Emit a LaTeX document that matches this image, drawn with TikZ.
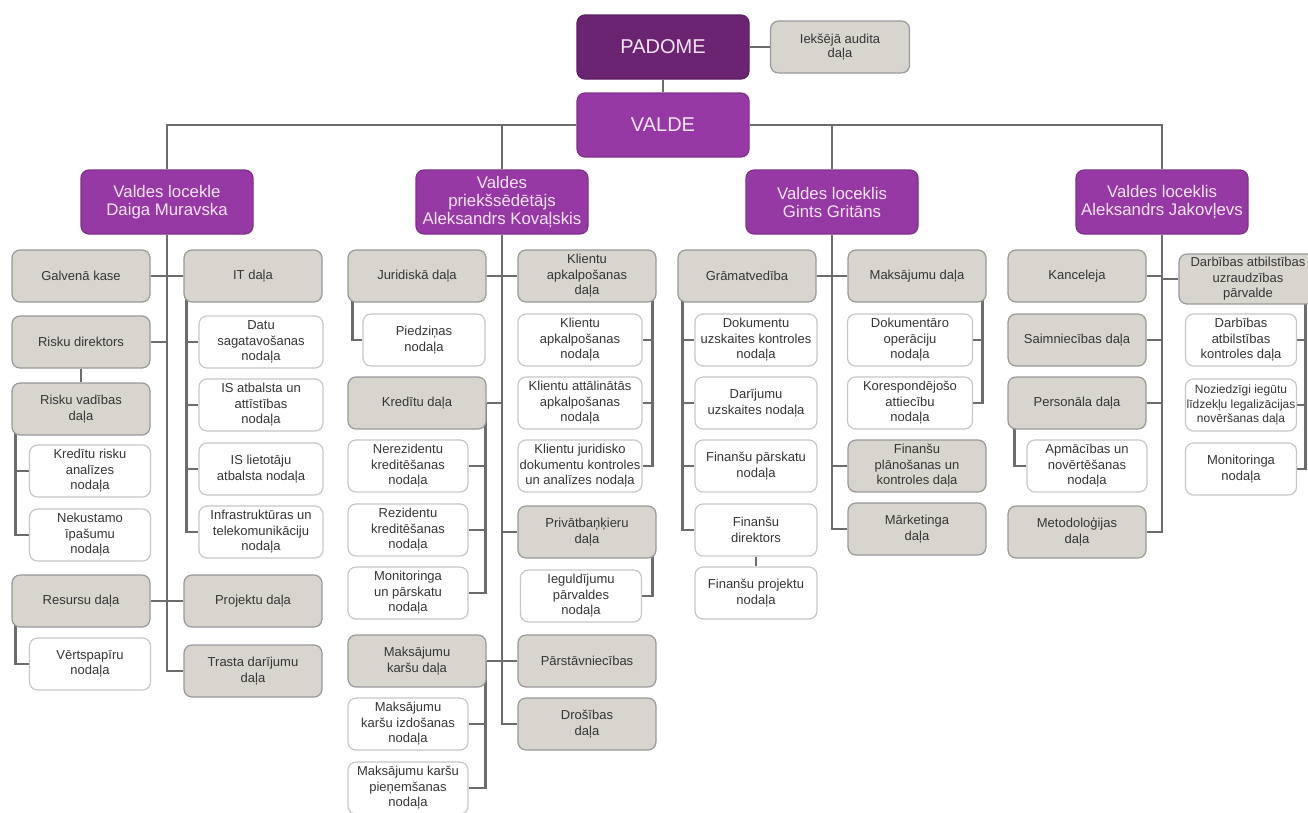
\documentclass[tikz,border=0pt]{standalone}
\usepackage{fontspec}
\setmainfont{Liberation Sans}
\usetikzlibrary{positioning}

\definecolor{padomec}{HTML}{6A2471}
\definecolor{valdec}{HTML}{9739A4}
\definecolor{deptc}{HTML}{D8D4CE}
\definecolor{linec}{HTML}{6C6C6C}
\definecolor{txtc}{HTML}{363636}
\definecolor{lightc}{HTML}{F6E4F8}

\pgfdeclarelayer{bg}
\pgfsetlayers{bg,main}

\begin{document}
\begin{tikzpicture}[x=1pt, y=-1pt,
  box/.style={rounded corners=8pt, align=center, inner sep=1pt, line width=1.2pt},
  toplvl/.style={box, fill=padomec, draw=padomec!85!black, text=lightc,
                 minimum width=172pt, minimum height=64pt, font=\fontsize{20}{24}\selectfont},
  board/.style={box, fill=valdec, draw=valdec!85!black, text=lightc,
                minimum width=172pt, minimum height=64pt, font=\fontsize{16.8}{18}\selectfont},
  dept/.style={box, fill=deptc, draw=black!40, text=txtc,
               minimum width=138pt, minimum height=52pt, font=\fontsize{13}{15.5}\selectfont},
  unit/.style={box, fill=white, draw=black!22, text=txtc,
               minimum width=122pt, minimum height=52pt, font=\fontsize{13}{15.5}\selectfont},
  conn/.style={draw=linec, line width=2.8pt}]

\useasboundingbox (0,0) rectangle (1308,812);

% top
\node[toplvl] (padome) at (663,47) {PADOME};
\node[dept, minimum width=139pt, font=\fontsize{13}{14}\selectfont] (audit) at (840,47) {Iekšējā audita\\daļa};
\node[board, font=\fontsize{20}{24}\selectfont] (valde) at (663,125) {VALDE};

\node[board] (m1) at (167,202) {Valdes locekle\\Daiga Muravska};
\node[board] (m2) at (502,202) {Valdes\\priekšsēdētājs\\Aleksandrs Kovaļskis};
\node[board] (m3) at (832,202) {Valdes loceklis\\Gints Gritāns};
\node[board] (m4) at (1162,202) {Valdes loceklis\\Aleksandrs Jakovļevs};

% Muravska
\node[dept] (galv) at (81,276) {Galvenā kase};
\node[dept] (riskdir) at (81,342) {Risku direktors};
\node[dept] (riskvad) at (81,409) {Risku vadības\\daļa};
\node[unit, minimum width=121pt] (kredrisk) at (90,471) {Kredītu risku\\analīzes\\nodaļa};
\node[unit, minimum width=121pt] (nekust) at (90,535) {Nekustamo\\īpašumu\\nodaļa};
\node[dept] (resurs) at (81,601) {Resursu daļa};
\node[unit, minimum width=121pt] (vertsp) at (90,664) {Vērtspapīru\\nodaļa};
\node[dept] (itd) at (253,276) {IT daļa};
\node[unit, minimum width=124pt] (datu) at (261,342) {Datu\\sagatavošanas\\nodaļa};
\node[unit, minimum width=124pt] (isatt) at (261,405) {IS atbalsta un\\attīstības\\nodaļa};
\node[unit, minimum width=124pt] (isliet) at (261,469) {IS lietotāju\\atbalsta nodaļa};
\node[unit, minimum width=124pt] (infra) at (261,532) {Infrastruktūras un\\telekomunikāciju\\nodaļa};
\node[dept] (projekt) at (253,601) {Projektu daļa};
\node[dept] (trasta) at (253,671) {Trasta darījumu\\daļa};

% Kovalskis
\node[dept] (jurid) at (417,276) {Juridiskā daļa};
\node[unit] (piedz) at (424,340) {Piedziņas\\nodaļa};
\node[dept] (kredd) at (417,403) {Kredītu daļa};
\node[unit, minimum width=120pt] (nerez) at (408,466) {Nerezidentu\\kreditēšanas\\nodaļa};
\node[unit, minimum width=120pt] (rez) at (408,530) {Rezidentu\\kreditēšanas\\nodaļa};
\node[unit, minimum width=120pt] (monit) at (408,593) {Monitoringa\\un pārskatu\\nodaļa};
\node[dept] (makskd) at (417,661) {Maksājumu\\karšu daļa};
\node[unit, minimum width=120pt] (maksizd) at (408,724) {Maksājumu\\karšu izdošanas\\nodaļa};
\node[unit, minimum width=120pt] (makspien) at (408,788) {Maksājumu karšu\\pieņemšanas\\nodaļa};
\node[dept] (kapd) at (587,276) {Klientu\\apkalpošanas\\daļa};
\node[unit, minimum width=124pt] (kapn) at (580,340) {Klientu\\apkalpošanas\\nodaļa};
\node[unit, minimum width=124pt] (katt) at (580,403) {Klientu attālinātās\\apkalpošanas\\nodaļa};
\node[unit, minimum width=124pt] (kjur) at (580,466) {Klientu juridisko\\dokumentu kontroles\\un analīzes nodaļa};
\node[dept] (privat) at (587,532) {Privātbaņķieru\\daļa};
\node[unit, minimum width=121pt] (iegul) at (581,596) {Ieguldījumu\\pārvaldes\\nodaļa};
\node[dept] (parst) at (587,661) {Pārstāvniecības};
\node[dept] (drosib) at (587,724) {Drošības\\daļa};

% Gritans
\node[dept] (gram) at (747,276) {Grāmatvedība};
\node[unit] (dokuzsk) at (756,340) {Dokumentu\\uzskaites kontroles\\nodaļa};
\node[unit] (darij) at (756,403) {Darījumu\\uzskaites nodaļa};
\node[unit] (finparsk) at (756,466) {Finanšu pārskatu\\nodaļa};
\node[unit] (findir) at (756,530) {Finanšu\\direktors};
\node[unit] (finproj) at (756,593) {Finanšu projektu\\nodaļa};
\node[dept] (maksd) at (917,276) {Maksājumu daļa};
\node[unit, minimum width=125pt] (dokopr) at (910,340) {Dokumentāro\\operāciju\\nodaļa};
\node[unit, minimum width=125pt] (koresp) at (910,403) {Korespondējošo\\attiecību\\nodaļa};
\node[dept] (finplan) at (917,466) {Finanšu\\plānošanas un\\kontroles daļa};
\node[dept] (market) at (917,529) {Mārketinga\\daļa};

% Jakovlevs
\node[dept] (kanc) at (1077,276) {Kanceleja};
\node[dept] (saimn) at (1077,340) {Saimniecības daļa};
\node[dept] (person) at (1077,403) {Personāla daļa};
\node[unit, minimum width=120pt] (apmac) at (1087,466) {Apmācības un\\novērtēšanas\\nodaļa};
\node[dept] (metod) at (1077,532) {Metodoloģijas\\daļa};
\node[dept, minimum height=50pt] (parv) at (1248,279) {Darbības atbilstības\\uzraudzības\\pārvalde};
\node[unit, minimum width=111pt] (datkontr) at (1241,340) {Darbības\\atbilstības\\kontroles daļa};
\node[unit, minimum width=111pt, font=\fontsize{12}{14.5}\selectfont] (nozied) at (1241,405) {Noziedzīgi iegūtu\\līdzekļu legalizācijas\\novēršanas daļa};
\node[unit, minimum width=111pt] (monnod) at (1241,469) {Monitoringa\\nodaļa};

\begin{pgfonlayer}{bg}
\fill[white] (0,0) rectangle (1308,812);
\draw[conn] (padome) -- (audit);
\draw[conn] (padome) -- (valde);
\draw[conn] (valde) -| (m1);
\draw[conn] (valde) -| (m4);
\draw[conn] (m2) -- (m2 |- valde);
\draw[conn] (m3) -- (m3 |- valde);

\draw[conn] (m1) |- (trasta);
\foreach \n in {galv,riskdir,resurs}
  \draw[conn] (\n) -- (\n -| m1);
\foreach \n in {itd,projekt}
  \draw[conn] (\n) -- (\n -| m1);
\draw[conn] (riskdir) -- (riskvad);
\foreach \n in {kredrisk,nekust}
  \draw[conn] ([xshift=4pt]riskvad.west) |- (\n);
\draw[conn] ([xshift=4pt]resurs.west) |- (vertsp);
\foreach \n in {datu,isatt,isliet,infra}
  \draw[conn] ([xshift=3pt]itd.west) |- (\n);

\draw[conn] (m2) |- (drosib);
\foreach \n in {jurid,kredd,makskd,kapd,privat,parst}
  \draw[conn] (\n) -- (\n -| m2);
\draw[conn] ([xshift=5pt]jurid.west) |- (piedz);
\foreach \n in {nerez,rez,monit}
  \draw[conn] ([xshift=-1pt]kredd.east) |- (\n);
\foreach \n in {maksizd,makspien}
  \draw[conn] ([xshift=-1pt]makskd.east) |- (\n);
\foreach \n in {kapn,katt,kjur}
  \draw[conn] ([xshift=-4pt]kapd.east) |- (\n);
\draw[conn] ([xshift=-4pt]privat.east) |- (iegul);

\draw[conn] (m3) |- (market);
\foreach \n in {gram,maksd,finplan}
  \draw[conn] (\n) -- (\n -| m3);
\foreach \n in {dokuzsk,darij,finparsk,findir}
  \draw[conn] ([xshift=5pt]gram.west) |- (\n);
\draw[conn] (findir) -- (finproj);
\foreach \n in {dokopr,koresp}
  \draw[conn] ([xshift=-4pt]maksd.east) |- (\n);

\draw[conn] (m4) |- (metod);
\foreach \n in {kanc,saimn,person,parv}
  \draw[conn] (\n) -- (\n -| m4);
\draw[conn] ([xshift=7pt]person.west) |- (apmac);
\foreach \n in {datkontr,nozied,monnod}
  \draw[conn] ([xshift=-12pt]parv.east) |- (\n);
\end{pgfonlayer}
\end{tikzpicture}
\end{document}
